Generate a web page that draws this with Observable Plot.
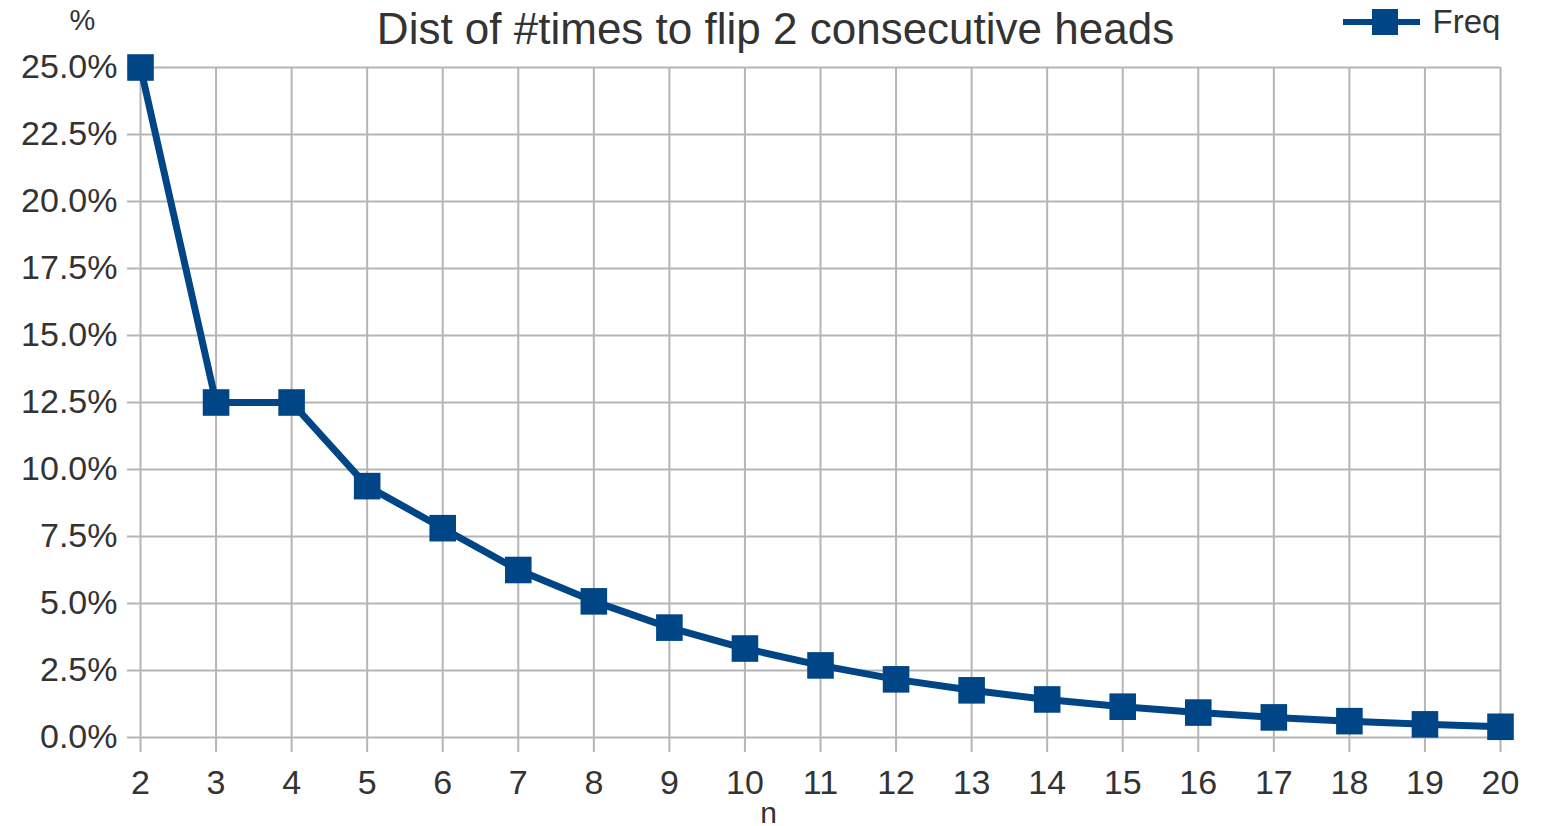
<!DOCTYPE html>
<html>
<head>
<meta charset="utf-8">
<script src="https://cdn.jsdelivr.net/npm/d3@7"></script>
<script src="https://cdn.jsdelivr.net/npm/@observablehq/plot@0.6"></script>
<style>
  body { margin: 0; background: #fff; }
  #wrap { position: relative; width: 1552px; height: 826px; font-family: "Liberation Sans", Arial, sans-serif; }
  #legend-line { position: absolute; left: 1343px; top: 19px; width: 77px; height: 6px; background: #004586; z-index: 2; }
  #legend-sq { position: absolute; left: 1372px; top: 9px; width: 26px; height: 26px; background: #004586; z-index: 3; }
</style>
</head>
<body>
<div id="wrap">
  <div id="legend-line"></div>
  <div id="legend-sq"></div>
</div>
<script>
const nValues = [2, 3, 4, 5, 6, 7, 8, 9, 10, 11, 12, 13, 14, 15, 16, 17, 18, 19, 20];
const freqValues = [0.25, 0.125, 0.125, 0.0938, 0.0781, 0.0625, 0.0508, 0.0410, 0.0332, 0.0269, 0.0217, 0.0176, 0.0142, 0.0115, 0.0093, 0.0075, 0.0061, 0.0049, 0.0040];
const xTicks = [2, 3, 4, 5, 6, 7, 8, 9, 10, 11, 12, 13, 14, 15, 16, 17, 18, 19, 20];
const yTicks = [0, 0.025, 0.05, 0.075, 0.1, 0.125, 0.15, 0.175, 0.2, 0.225, 0.25];
const title = "Dist of #times to flip 2 consecutive heads";
const seriesName = "Freq";

const data = nValues.map((n, i) => ({n, freq: freqValues[i]}));
const gridColor = "#b5b5b5";
const textColor = "#333";

const chart = Plot.plot({
  width: 1552,
  height: 826,
  marginLeft: 140,
  marginRight: 52,
  marginTop: 67,
  marginBottom: 89,
  style: {fontFamily: '"Liberation Sans", Arial, sans-serif', background: "transparent", overflow: "visible"},
  x: {domain: [2, 20]},
  y: {domain: [0, 0.25]},
  marks: [
    Plot.gridX(xTicks, {stroke: gridColor, strokeOpacity: 1, strokeWidth: 2}),
    Plot.gridY(yTicks, {stroke: gridColor, strokeOpacity: 1, strokeWidth: 2}),
    Plot.axisX(xTicks, {tickSize: 15, tickPadding: 17, stroke: gridColor, strokeWidth: 2, fill: textColor, fontSize: 34, label: null}),
    Plot.axisY(yTicks, {tickSize: 13, tickPadding: 10, stroke: gridColor, strokeWidth: 2, fill: textColor, fontSize: 34, tickFormat: d3.format(".1%"), label: null}),
    Plot.line(data, {x: "n", y: "freq", stroke: "#004586", strokeWidth: 7, strokeLinejoin: "round"}),
    Plot.dot(data, {x: "n", y: "freq", symbol: "square", r: 15, fill: "#004586", stroke: "none"}),
    Plot.text([title], {frameAnchor: "top", textAnchor: "middle", lineAnchor: "middle", dx: -45, dy: -38, fontSize: 44, fill: textColor}),
    Plot.text(["%"], {frameAnchor: "top-left", textAnchor: "middle", lineAnchor: "middle", dx: -58, dy: -47, fontSize: 29, fill: textColor}),
    Plot.text(["n"], {frameAnchor: "bottom", textAnchor: "middle", lineAnchor: "middle", dx: -52, dy: 76, fontSize: 30, fill: textColor}),
    Plot.text([seriesName], {frameAnchor: "top-right", textAnchor: "start", lineAnchor: "middle", dx: -68, dy: -45, fontSize: 33, fill: textColor})
  ]
});
document.getElementById("wrap").prepend(chart);
chart.style.position = "absolute";
chart.style.left = "0";
chart.style.top = "0";
</script>
</body>
</html>
